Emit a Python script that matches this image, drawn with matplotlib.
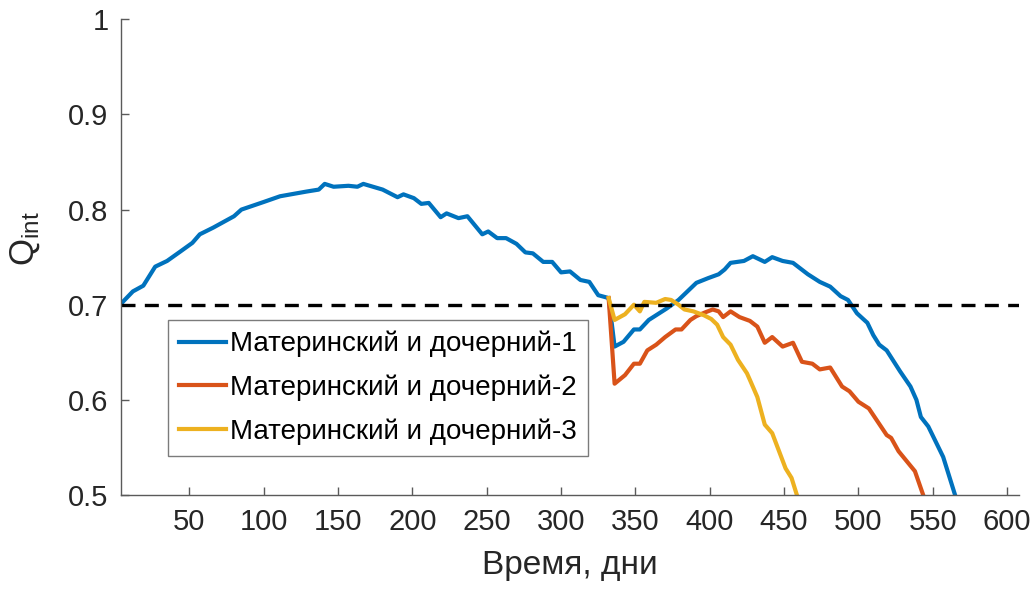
import numpy as np
import matplotlib
matplotlib.use("Agg")
import matplotlib.pyplot as plt

plt.rcParams['font.family'] = ['Liberation Sans', 'DejaVu Sans']

# Материнский и дочерний-1
days_1 = [4, 12, 19, 27, 35, 44, 52, 57, 66, 80, 85, 100, 111, 129, 137, 141, 147,
          157, 163, 167, 180, 190, 194, 201, 206, 211, 219, 223, 231, 237, 247, 251,
          257, 263, 270, 276, 281, 288, 294, 300, 306, 313, 319, 325, 332, 336, 342,
          349, 353, 359, 364, 371, 379, 387, 391, 399, 406, 410, 414, 423, 429, 437,
          442, 449, 456, 461, 466, 474, 481, 488, 493, 499, 506, 510, 514, 519, 528,
          535, 539, 542, 547, 557, 565]
q_1 = [0.701, 0.714, 0.720, 0.740, 0.746, 0.756, 0.765, 0.774, 0.781, 0.793, 0.800,
       0.808, 0.814, 0.819, 0.821, 0.827, 0.824, 0.825, 0.824, 0.827, 0.821, 0.813,
       0.816, 0.812, 0.806, 0.807, 0.792, 0.796, 0.791, 0.793, 0.774, 0.777, 0.770,
       0.770, 0.764, 0.755, 0.754, 0.745, 0.745, 0.734, 0.735, 0.726, 0.724, 0.710,
       0.707, 0.656, 0.661, 0.674, 0.674, 0.684, 0.689, 0.696, 0.705, 0.717, 0.723,
       0.728, 0.732, 0.737, 0.744, 0.746, 0.751, 0.745, 0.750, 0.746, 0.744, 0.738,
       0.732, 0.724, 0.719, 0.709, 0.705, 0.691, 0.681, 0.668, 0.658, 0.652, 0.630,
       0.614, 0.600, 0.582, 0.572, 0.540, 0.500]

# Материнский и дочерний-2
days_2 = [332, 336, 343, 349, 353, 358, 364, 370, 377, 381, 387, 391, 397, 402, 406,
          409, 414, 420, 427, 432, 437, 442, 449, 456, 462, 469, 474, 481, 489, 494,
          500, 507, 519, 522, 527, 538, 544]
q_2 = [0.707, 0.617, 0.626, 0.638, 0.638, 0.652, 0.658, 0.666, 0.674, 0.674, 0.684,
       0.688, 0.692, 0.695, 0.693, 0.687, 0.693, 0.687, 0.683, 0.677, 0.660, 0.666,
       0.656, 0.660, 0.640, 0.638, 0.632, 0.634, 0.614, 0.609, 0.598, 0.591, 0.563,
       0.560, 0.546, 0.525, 0.498]

# Материнский и дочерний-3
days_3 = [332, 336, 343, 349, 353, 356, 364, 370, 374, 379, 383, 389, 396, 401, 405,
          409, 414, 419, 425, 427, 432, 437, 442, 451, 455, 459]
q_3 = [0.707, 0.684, 0.690, 0.700, 0.693, 0.703, 0.702, 0.706, 0.705, 0.700, 0.695,
       0.693, 0.689, 0.685, 0.679, 0.666, 0.658, 0.642, 0.628, 0.621, 0.603, 0.574,
       0.565, 0.528, 0.518, 0.498]

labels = ['Материнский и дочерний-1', 'Материнский и дочерний-2',
          'Материнский и дочерний-3']
colors = ['#0072BD', '#D95319', '#EDB120']
threshold = 0.7

x_ticks = np.arange(50, 601, 50)
y_ticks = [0.5, 0.6, 0.7, 0.8, 0.9, 1.0]
y_ticklabels = ['0.5', '0.6', '0.7', '0.8', '0.9', '1']

fig = plt.figure(figsize=(10.36, 5.89), dpi=100)
ax = fig.add_axes([121 / 1036, 1 - 495 / 589, 898 / 1036, 475.7 / 589])

series = [(days_1, q_1), (days_2, q_2), (days_3, q_3)]
lines = []
for (d, q), c, lab in zip(series, colors, labels):
    ln, = ax.plot(d, q, color=c, lw=3.0, label=lab, solid_joinstyle='round')
    lines.append(ln)

# пороговый уровень
ax.axhline(threshold, color='black', lw=2.4, linestyle=(0, (4.2, 2.8)))

ax.set_xlim(4, 608)
ax.set_ylim(0.5, 1.0)
ax.set_xticks(x_ticks)
ax.set_yticks(y_ticks)
ax.set_yticklabels(y_ticklabels)

for side in ['top', 'right']:
    ax.spines[side].set_visible(False)
for side in ['left', 'bottom']:
    ax.spines[side].set_color('#5a5a5a')
    ax.spines[side].set_linewidth(1.0)

ax.tick_params(direction='in', length=6, width=1.0, color='#5a5a5a',
               labelsize=21, labelcolor='#262626', pad=9)

ax.set_xlabel('Время, дни', fontsize=24, color='#262626')
ax.set_ylabel(r'$\mathregular{Q_{int}}$', fontsize=25, color='#262626')
ax.xaxis.set_label_coords(0.5, -0.115)
ax.yaxis.set_label_coords(-0.088, 0.54)

leg = ax.legend(handles=lines, loc='lower left', bbox_to_anchor=(0.0523, 0.082),
                borderaxespad=0, fontsize=20, frameon=True, fancybox=False,
                handlelength=1.7, handletextpad=0.15, labelspacing=0.62,
                borderpad=0.4)
leg.get_frame().set_edgecolor('#5a5a5a')
leg.get_frame().set_linewidth(1.0)

fig.savefig('out.png', dpi=100)
